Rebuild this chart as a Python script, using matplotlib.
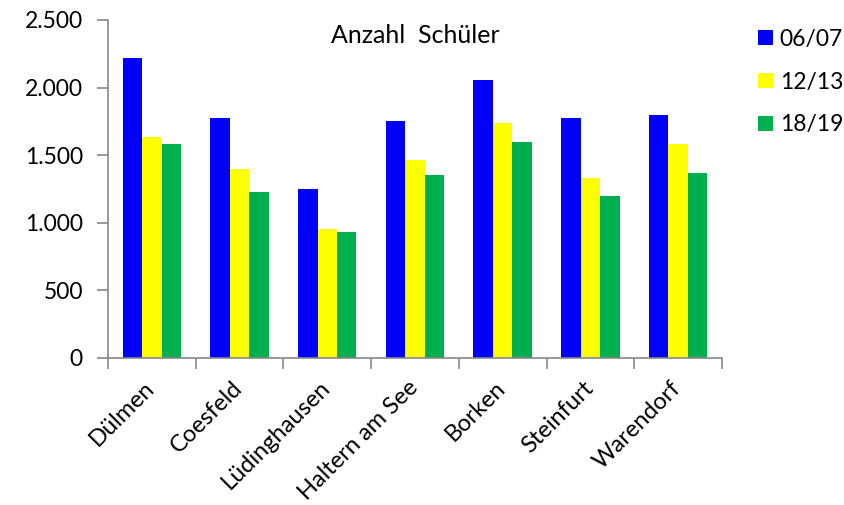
import matplotlib.pyplot as plt
import matplotlib.transforms as mtransforms
import numpy as np
from matplotlib.ticker import FuncFormatter

plt.rcParams['font.family'] = ['Lato', 'DejaVu Sans']

orte = ['Dülmen', 'Coesfeld', 'Lüdinghausen', 'Haltern am See', 'Borken', 'Steinfurt', 'Warendorf']
jahre = ['06/07', '12/13', '18/19']
s_0607 = [2221, 1772, 1246, 1750, 2053, 1774, 1796]
s_1213 = [1631, 1394, 950, 1463, 1735, 1328, 1582]
s_1819 = [1579, 1224, 928, 1352, 1594, 1197, 1369]
farben = ['#0000FF', '#FFFF00', '#00B050']

fig = plt.figure(figsize=(8.45, 5.05), dpi=100)
ax = fig.add_axes([0.1278, 0.2917, 0.7266, 0.6687])

x = np.arange(len(orte))
w = 0.222
for i, (werte, name) in enumerate(zip([s_0607, s_1213, s_1819], jahre)):
    ax.bar(x + (i - 1) * w, werte, w, color=farben[i], label=name)

ax.set_xlim(-0.5, len(orte) - 0.5)
ax.set_ylim(0, 2500)
ax.set_yticks(range(0, 2501, 500))
ax.yaxis.set_major_formatter(FuncFormatter(lambda v, p: f'{int(v):,}'.replace(',', '.')))

# Striche an den Kategoriegrenzen, Beschriftung in der Mitte
ax.set_xticks(np.arange(-0.5, len(orte), 1.0))
ax.set_xticklabels([])
ax.set_xticks(x, minor=True)
ax.set_xticklabels(orte, minor=True, rotation=45, ha='right', va='top',
                   rotation_mode='anchor', fontsize=17)
ax.tick_params(axis='x', which='minor', length=0, pad=14)
ax.tick_params(axis='both', which='major', length=8, width=1.2, color='#888888',
               labelsize=16.5, direction='out')
ax.tick_params(axis='y', pad=10)

# Beschriftung etwas nach links verschieben
shift = mtransforms.ScaledTranslation(-8 / 100, 0, fig.dpi_scale_trans)
for lbl in ax.get_xticklabels(minor=True):
    lbl.set_transform(lbl.get_transform() + shift)

for s in ['top', 'right']:
    ax.spines[s].set_visible(False)
for s in ['left', 'bottom']:
    ax.spines[s].set_color('#888888')
    ax.spines[s].set_linewidth(1.2)

ax.text(0.5, 0.955, 'Anzahl  Schüler', transform=ax.transAxes, ha='center',
        va='center', fontsize=18)

ax.legend(loc='upper left', bbox_to_anchor=(1.025, 1.035), frameon=False,
          fontsize=16.5, handlelength=0.65, handleheight=0.65, handletextpad=0.3,
          labelspacing=0.95)

fig.savefig('out.png', dpi=100)
